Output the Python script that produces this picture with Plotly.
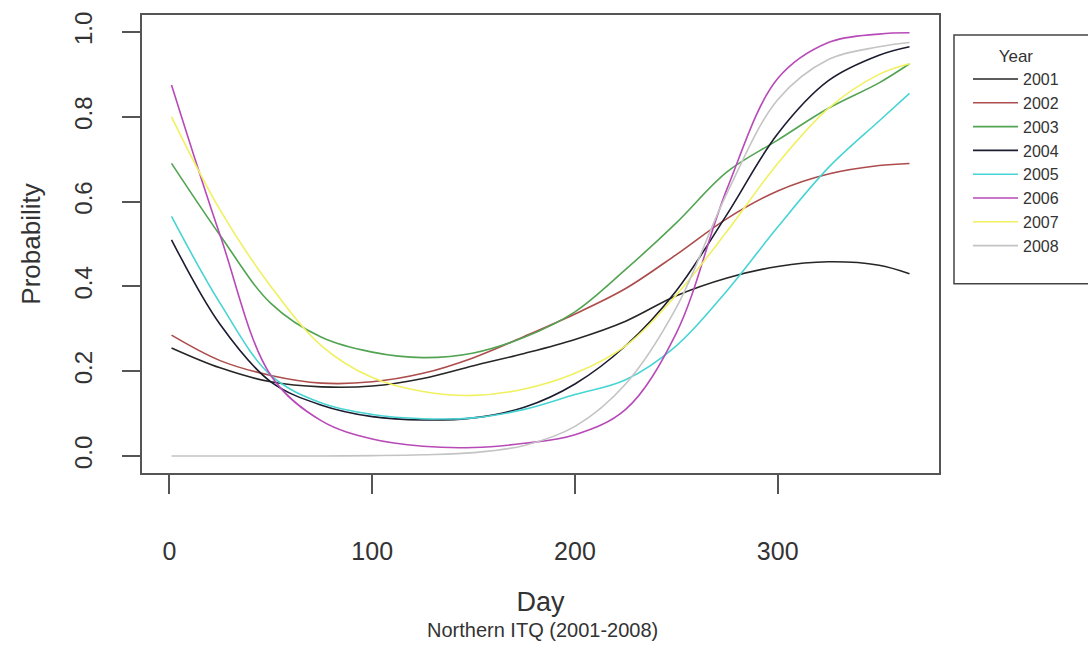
import plotly.graph_objects as go

days = [1, 25, 50, 75, 100, 125, 150, 175, 200, 225, 250, 275, 300, 325, 350, 365]

years = ["2001", "2002", "2003", "2004", "2005", "2006", "2007", "2008"]

p2001 = [0.255, 0.208, 0.175, 0.163, 0.165, 0.183, 0.213, 0.242, 0.275, 0.318, 0.378, 0.420, 0.447, 0.458, 0.450, 0.430]
p2002 = [0.285, 0.225, 0.190, 0.172, 0.175, 0.195, 0.232, 0.282, 0.335, 0.395, 0.475, 0.560, 0.625, 0.665, 0.685, 0.690]
p2003 = [0.690, 0.520, 0.360, 0.280, 0.245, 0.232, 0.243, 0.280, 0.340, 0.440, 0.550, 0.670, 0.745, 0.820, 0.880, 0.925]
p2004 = [0.510, 0.310, 0.175, 0.120, 0.093, 0.085, 0.090, 0.115, 0.170, 0.260, 0.390, 0.570, 0.760, 0.885, 0.945, 0.965]
p2005 = [0.565, 0.360, 0.190, 0.125, 0.098, 0.088, 0.090, 0.110, 0.145, 0.180, 0.260, 0.390, 0.540, 0.680, 0.790, 0.855]
p2006 = [0.875, 0.520, 0.190, 0.083, 0.040, 0.023, 0.020, 0.030, 0.050, 0.110, 0.290, 0.630, 0.890, 0.975, 0.995, 0.998]
p2007 = [0.800, 0.580, 0.400, 0.260, 0.185, 0.152, 0.143, 0.158, 0.195, 0.260, 0.380, 0.530, 0.690, 0.820, 0.900, 0.925]
p2008 = [0.000, 0.000, 0.000, 0.000, 0.001, 0.003, 0.008, 0.025, 0.070, 0.170, 0.350, 0.620, 0.840, 0.935, 0.965, 0.975]

series = [p2001, p2002, p2003, p2004, p2005, p2006, p2007, p2008]
colors = ["#262626", "#ad4c4c", "#52a452", "#1c1c30", "#48d4d4", "#b84ab8", "#f0f060", "#c4c4c4"]

FONT = "Liberation Sans, Arial, sans-serif"
TXT = "#333333"

fig = go.Figure()
for name, vals, col in zip(years, series, colors):
    fig.add_trace(go.Scatter(
        x=days, y=vals, mode="lines", name=name,
        line=dict(color=col, width=1.6, shape="spline", smoothing=1.0),
    ))

fig.update_layout(
    width=1088, height=653,
    margin=dict(l=142, r=149, t=13, b=180),
    paper_bgcolor="white", plot_bgcolor="white",
    font=dict(family=FONT, color=TXT),
    showlegend=True,
    legend=dict(
        xref="container", yref="container",
        x=968 / 1088, y=1 - 40 / 653, xanchor="left", yanchor="top",
        bgcolor="rgba(0,0,0,0)", borderwidth=0,
        font=dict(family=FONT, size=16, color=TXT),
        itemwidth=45,
        title=dict(text="Year", side="top center", font=dict(family=FONT, size=17, color=TXT)),
    ),
    xaxis=dict(
        range=[-13.56, 379.56], tickvals=[0, 100, 200, 300],
        ticks="outside", ticklen=19, tickwidth=1.5, tickcolor="#555",
        showline=True, mirror=True, linecolor="#555", linewidth=2,
        showgrid=False, zeroline=False,
        tickfont=dict(family=FONT, size=25, color=TXT),
        ticklabelstandoff=36,
        title=dict(text="Day", font=dict(family=FONT, size=27, color=TXT), standoff=28),
    ),
    yaxis=dict(
        range=[-0.04, 1.04], tickvals=[0, 0.2, 0.4, 0.6, 0.8, 1.0], tickformat=".1f",
        tickangle=-90,
        ticks="outside", ticklen=18, tickwidth=1.5, tickcolor="#555",
        showline=True, mirror=True, linecolor="#555", linewidth=2,
        showgrid=False, zeroline=False,
        tickfont=dict(family=FONT, size=24, color=TXT),
        ticklabelstandoff=20,
        title=dict(text="Probability", font=dict(family=FONT, size=26, color=TXT), standoff=22),
    ),
    shapes=[dict(
        type="rect", xref="paper", yref="paper",
        x0=(954 - 142) / 797, x1=(1095 - 142) / 797,
        y0=(473 - 283) / 460, y1=(473 - 33) / 460,
        line=dict(color="#444", width=1.5), fillcolor="rgba(0,0,0,0)",
    )],
    annotations=[dict(
        text="Northern ITQ (2001-2008)", xref="paper", yref="paper",
        x=(542 - 142) / 797, y=(473 - 631) / 460, xanchor="center", yanchor="middle",
        showarrow=False, font=dict(family=FONT, size=20, color=TXT),
    )],
)

fig.write_html("out.html")
